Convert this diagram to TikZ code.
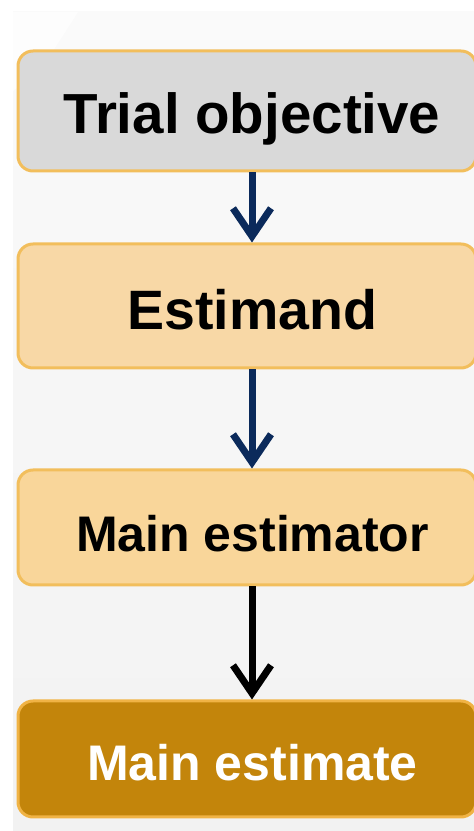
\documentclass[tikz,border=0pt]{standalone}
\usepackage{fontspec}
\setmainfont{Liberation Sans}
\usetikzlibrary{arrows.meta,positioning,calc}

\definecolor{pagebg}{HTML}{FAFAFA}
\definecolor{pagebgdark}{HTML}{F2F2F2}
\definecolor{edgeorange}{HTML}{F2BE5C}
\definecolor{greyfill}{HTML}{D9D9D9}
\definecolor{peachfill}{HTML}{F8D8A6}
\definecolor{sandfill}{HTML}{F9D69A}
\definecolor{goldfill}{HTML}{C3850B}
\definecolor{goldedge}{HTML}{F0B345}
\definecolor{navy}{HTML}{0B2A5B}

\tikzset{
  x=1pt, y=1pt,
  stage/.style={draw=edgeorange, line width=3pt, rounded corners=15pt,
    minimum width=458pt, inner sep=0pt},
  label text/.style={font=\bfseries, inner sep=0pt, text depth=0pt},
  flow/.style={line width=7pt, -{Straight Barb[length=28pt,width=38pt,line width=7pt]}},
}

\begin{document}
\begin{tikzpicture}
  % page and background
  \useasboundingbox (0,0) rectangle (474,831);
  \clip (0,0) rectangle (474,831);
  \fill[white] (0,0) rectangle (474,831);
  \shade[top color=pagebg, bottom color=pagebgdark] (13,0) rectangle (474,819);
  \fill[white, opacity=0.7] (13,819) -- (78,819) -- (40,760) -- (13,740) -- cycle;

  % stage boxes
  \node[stage, fill=greyfill, minimum height=120pt] (b1) at (247,720) {};
  \node[stage, fill=peachfill, minimum height=124pt] (b2) at (247,525) {};
  \node[stage, fill=sandfill, minimum height=115pt] (b3) at (247,303.5) {};
  \node[stage, fill=goldfill, draw=goldedge, minimum height=116pt] (b4) at (247,72) {};

  % box texts
  \node[label text, font=\bfseries\fontsize{56.5}{62}\selectfont, text height=40pt] (t1) at (252,717) {Trial objective};
  \node[label text, font=\bfseries\fontsize{55.5}{60}\selectfont, text height=40pt] (t2) at (252.5,521) {Estimand};
  \node[label text, font=\bfseries\fontsize{50}{56}\selectfont, text height=36pt] (t3) at (252.5,297.5) {Main estimator};
  \node[label text, font=\bfseries\fontsize{50}{56}\selectfont, text height=36pt, text=white] (t4) at (252.5,68.5) {Main estimate};

  % connectors
  \draw[flow, navy] (t1 |- b1.south) -- (t1 |- b2.north);
  \draw[flow, navy] (t1 |- b2.south) -- (t1 |- b3.north);
  \draw[flow, black] (t1 |- b3.south) -- (t1 |- b4.north);
\end{tikzpicture}
\end{document}
